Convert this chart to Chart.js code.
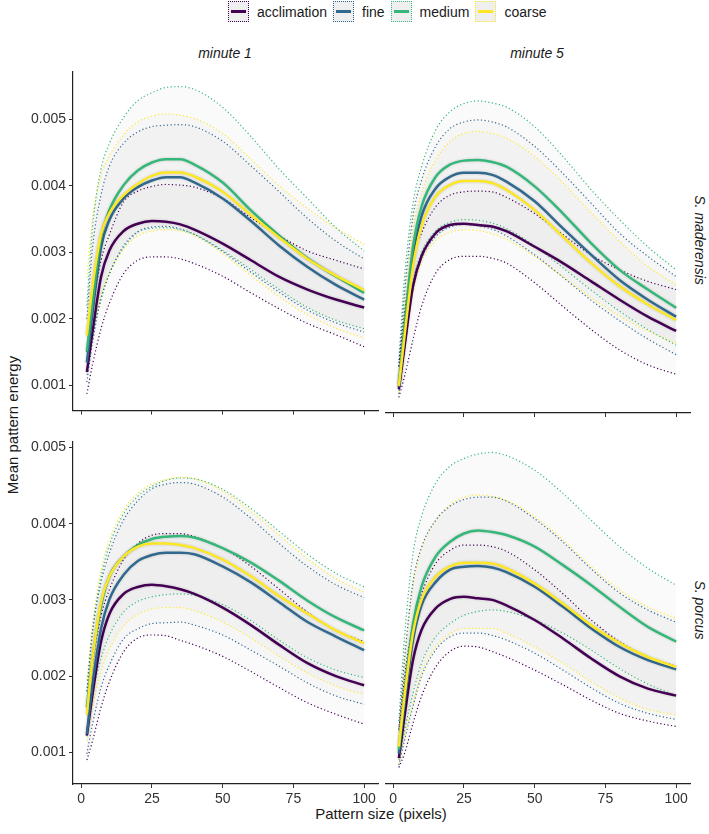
<!DOCTYPE html>
<html>
<head>
<meta charset="utf-8">
<script src="https://cdn.jsdelivr.net/npm/chart.js@4.4.1/dist/chart.umd.min.js"></script>
<style>
  body { margin: 0; background: #fff; font-family: "Liberation Sans", Arial, sans-serif; }
  #wrap { position: relative; width: 709px; height: 834px; overflow: hidden; }
  canvas { position: absolute; }
  .lab { position: absolute; white-space: nowrap; color: #1a1a1a; transform: translate(-50%, -50%); }
  .strip { font-size: 14px; font-style: italic; }
  #legend { position: absolute; left: 228px; top: 1px; display: flex; align-items: center; font-size: 14px; color: #1a1a1a; }
  .key { width: 19px; height: 19px; border: 1px dotted; background: #efefef; position: relative; margin-right: 8px; }
  .key i { position: absolute; left: 2px; right: 2px; top: 8px; height: 3px; }
  .item { display: flex; align-items: center; margin-right: 6px; }
</style>
</head>
<body>
<div id="wrap">
  <div id="legend"></div>
  <div class="lab strip" style="left:225px; top:53px;">minute 1</div>
  <div class="lab strip" style="left:537px; top:53px;">minute 5</div>
  <div class="lab strip" style="left:700px; top:240px; transform: translate(-50%, -50%) rotate(90deg);">S. maderensis</div>
  <div class="lab strip" style="left:700px; top:610px; transform: translate(-50%, -50%) rotate(90deg);">S. porcus</div>
  <div class="lab" style="left:12px; top:425px; font-size:15px; transform: translate(-50%, -50%) rotate(-90deg);">Mean pattern energy</div>
  <div class="lab" style="left:381px; top:813px; font-size:15px;">Pattern size (pixels)</div>
  <canvas id="tl" width="380" height="362" style="left:0px; top:60px;"></canvas>
  <canvas id="tr" width="307" height="362" style="left:385px; top:60px;"></canvas>
  <canvas id="bl" width="380" height="385" style="left:0px; top:430px;"></canvas>
  <canvas id="br" width="307" height="385" style="left:385px; top:430px;"></canvas>
</div>
<script>
const xs = [2, 4, 7, 10, 15, 20, 25, 30, 35, 40, 50, 60, 70, 80, 90, 100];
const xTicks = [0, 25, 50, 75, 100];
const yTicks = [0.001, 0.002, 0.003, 0.004, 0.005];
const groups = ["acclimation", "fine", "medium", "coarse"];
const groupColors = ["#440154", "#31688E", "#35B779", "#FDE725"];

// minute 1, S. maderensis
const m1madAccMean = [0.00120, 0.00180, 0.00263, 0.00303, 0.00332, 0.00343, 0.00347, 0.00346, 0.00342, 0.00334, 0.00313, 0.00288, 0.00263, 0.00244, 0.00229, 0.00217];
const m1madAccLo   = [0.00087, 0.00131, 0.00185, 0.00224, 0.00268, 0.00288, 0.00293, 0.00293, 0.00290, 0.00283, 0.00264, 0.00239, 0.00215, 0.00193, 0.00176, 0.00158];
const m1madAccHi   = [0.00150, 0.00214, 0.00288, 0.00327, 0.00376, 0.00392, 0.00399, 0.00402, 0.00401, 0.00398, 0.00381, 0.00352, 0.00325, 0.00302, 0.00288, 0.00275];
const m1madFinMean = [0.00134, 0.00209, 0.00307, 0.00349, 0.00381, 0.00398, 0.00408, 0.00413, 0.00413, 0.00405, 0.00381, 0.00347, 0.00310, 0.00278, 0.00251, 0.00229];
const m1madFinLo   = [0.00105, 0.00165, 0.00230, 0.00268, 0.00310, 0.00331, 0.00338, 0.00339, 0.00335, 0.00327, 0.00301, 0.00270, 0.00240, 0.00213, 0.00194, 0.00180];
const m1madFinHi   = [0.00200, 0.00307, 0.00386, 0.00430, 0.00464, 0.00481, 0.00489, 0.00491, 0.00492, 0.00489, 0.00467, 0.00430, 0.00391, 0.00351, 0.00317, 0.00290];
const m1madMedMean = [0.00151, 0.00224, 0.00322, 0.00364, 0.00401, 0.00423, 0.00435, 0.00440, 0.00440, 0.00432, 0.00405, 0.00363, 0.00325, 0.00291, 0.00264, 0.00239];
const m1madMedLo   = [0.00116, 0.00175, 0.00229, 0.00268, 0.00307, 0.00330, 0.00336, 0.00337, 0.00334, 0.00327, 0.00303, 0.00274, 0.00244, 0.00217, 0.00198, 0.00185];
const m1madMedHi   = [0.00220, 0.00337, 0.00425, 0.00464, 0.00503, 0.00528, 0.00540, 0.00548, 0.00549, 0.00545, 0.00518, 0.00474, 0.00425, 0.00381, 0.00337, 0.00302];
const m1madCoaMean = [0.00175, 0.00249, 0.00327, 0.00359, 0.00386, 0.00403, 0.00415, 0.00420, 0.00420, 0.00414, 0.00391, 0.00356, 0.00322, 0.00290, 0.00265, 0.00243];
const m1madCoaLo   = [0.00120, 0.00180, 0.00235, 0.00270, 0.00305, 0.00325, 0.00332, 0.00334, 0.00332, 0.00325, 0.00298, 0.00265, 0.00233, 0.00206, 0.00186, 0.00171];
const m1madCoaHi   = [0.00262, 0.00352, 0.00415, 0.00445, 0.00477, 0.00496, 0.00505, 0.00508, 0.00506, 0.00501, 0.00479, 0.00440, 0.00400, 0.00366, 0.00337, 0.00312];

// minute 5, S. maderensis
const m5madAccMean = [0.00097, 0.00160, 0.00249, 0.00293, 0.00327, 0.00339, 0.00341, 0.00339, 0.00337, 0.00330, 0.00307, 0.00283, 0.00256, 0.00229, 0.00204, 0.00183];
const m5madAccLo   = [0.00085, 0.00116, 0.00170, 0.00219, 0.00268, 0.00288, 0.00293, 0.00293, 0.00290, 0.00283, 0.00254, 0.00219, 0.00185, 0.00155, 0.00133, 0.00119];
const m5madAccHi   = [0.00131, 0.00210, 0.00288, 0.00327, 0.00366, 0.00383, 0.00388, 0.00389, 0.00388, 0.00380, 0.00356, 0.00325, 0.00295, 0.00273, 0.00256, 0.00244];
const m5madFinMean = [0.00100, 0.00180, 0.00293, 0.00352, 0.00393, 0.00410, 0.00416, 0.00416, 0.00413, 0.00403, 0.00374, 0.00334, 0.00295, 0.00258, 0.00229, 0.00204];
const m5madFinLo   = [0.00090, 0.00155, 0.00245, 0.00290, 0.00322, 0.00336, 0.00340, 0.00338, 0.00333, 0.00323, 0.00295, 0.00262, 0.00228, 0.00198, 0.00171, 0.00148];
const m5madFinHi   = [0.00130, 0.00239, 0.00352, 0.00405, 0.00455, 0.00481, 0.00491, 0.00494, 0.00491, 0.00484, 0.00455, 0.00415, 0.00371, 0.00327, 0.00293, 0.00263];
const m5madMedMean = [0.00105, 0.00190, 0.00307, 0.00366, 0.00410, 0.00428, 0.00434, 0.00435, 0.00432, 0.00425, 0.00396, 0.00356, 0.00312, 0.00273, 0.00244, 0.00217];
const m5madMedLo   = [0.00095, 0.00170, 0.00255, 0.00298, 0.00330, 0.00343, 0.00347, 0.00346, 0.00342, 0.00334, 0.00308, 0.00276, 0.00243, 0.00212, 0.00185, 0.00162];
const m5madMedHi   = [0.00140, 0.00263, 0.00371, 0.00425, 0.00479, 0.00506, 0.00518, 0.00522, 0.00519, 0.00513, 0.00484, 0.00440, 0.00391, 0.00347, 0.00307, 0.00273];
const m5madCoaMean = [0.00102, 0.00175, 0.00278, 0.00337, 0.00381, 0.00398, 0.00404, 0.00404, 0.00401, 0.00391, 0.00361, 0.00322, 0.00283, 0.00249, 0.00222, 0.00199];
const m5madCoaLo   = [0.00092, 0.00160, 0.00240, 0.00285, 0.00316, 0.00328, 0.00332, 0.00331, 0.00326, 0.00318, 0.00293, 0.00263, 0.00232, 0.00205, 0.00183, 0.00165];
const m5madCoaHi   = [0.00125, 0.00214, 0.00332, 0.00386, 0.00435, 0.00462, 0.00474, 0.00477, 0.00474, 0.00467, 0.00440, 0.00401, 0.00357, 0.00315, 0.00278, 0.00251];

// minute 1, S. porcus
const m1porAccMean = [0.00122, 0.00176, 0.00245, 0.00282, 0.00308, 0.00317, 0.00320, 0.00318, 0.00314, 0.00308, 0.00290, 0.00267, 0.00241, 0.00217, 0.00200, 0.00188];
const m1porAccLo   = [0.00090, 0.00115, 0.00159, 0.00193, 0.00232, 0.00250, 0.00254, 0.00253, 0.00247, 0.00241, 0.00226, 0.00206, 0.00185, 0.00165, 0.00150, 0.00137];
const m1porAccHi   = [0.00150, 0.00215, 0.00279, 0.00314, 0.00353, 0.00374, 0.00385, 0.00387, 0.00387, 0.00383, 0.00368, 0.00344, 0.00314, 0.00284, 0.00260, 0.00245];
const m1porFinMean = [0.00124, 0.00189, 0.00262, 0.00301, 0.00333, 0.00351, 0.00359, 0.00362, 0.00362, 0.00360, 0.00344, 0.00323, 0.00297, 0.00271, 0.00252, 0.00234];
const m1porFinLo   = [0.00098, 0.00137, 0.00185, 0.00215, 0.00249, 0.00262, 0.00269, 0.00270, 0.00271, 0.00267, 0.00254, 0.00234, 0.00213, 0.00191, 0.00174, 0.00163];
const m1porFinHi   = [0.00180, 0.00258, 0.00323, 0.00362, 0.00405, 0.00430, 0.00446, 0.00452, 0.00454, 0.00452, 0.00435, 0.00407, 0.00374, 0.00344, 0.00320, 0.00303];
const m1porMedMean = [0.00159, 0.00223, 0.00292, 0.00331, 0.00357, 0.00372, 0.00380, 0.00383, 0.00384, 0.00382, 0.00368, 0.00349, 0.00325, 0.00299, 0.00277, 0.00260];
const m1porMedLo   = [0.00128, 0.00176, 0.00223, 0.00254, 0.00284, 0.00298, 0.00304, 0.00307, 0.00308, 0.00306, 0.00294, 0.00273, 0.00247, 0.00224, 0.00208, 0.00198];
const m1porMedHi   = [0.00180, 0.00260, 0.00330, 0.00372, 0.00413, 0.00436, 0.00449, 0.00457, 0.00460, 0.00459, 0.00445, 0.00420, 0.00390, 0.00360, 0.00335, 0.00317];
const m1porCoaMean = [0.00150, 0.00223, 0.00297, 0.00331, 0.00357, 0.00370, 0.00374, 0.00374, 0.00372, 0.00368, 0.00353, 0.00331, 0.00305, 0.00282, 0.00260, 0.00243];
const m1porCoaLo   = [0.00115, 0.00159, 0.00206, 0.00236, 0.00266, 0.00281, 0.00288, 0.00290, 0.00290, 0.00286, 0.00271, 0.00250, 0.00226, 0.00204, 0.00187, 0.00176];
const m1porCoaHi   = [0.00195, 0.00270, 0.00340, 0.00379, 0.00418, 0.00440, 0.00452, 0.00458, 0.00461, 0.00459, 0.00443, 0.00416, 0.00385, 0.00354, 0.00328, 0.00310];

// minute 5, S. porcus
const m5porAccMean = [0.00092, 0.00146, 0.00219, 0.00258, 0.00286, 0.00298, 0.00301, 0.00299, 0.00297, 0.00290, 0.00271, 0.00247, 0.00221, 0.00198, 0.00182, 0.00173];
const m5porAccLo   = [0.00080, 0.00098, 0.00137, 0.00172, 0.00210, 0.00230, 0.00237, 0.00236, 0.00230, 0.00223, 0.00206, 0.00187, 0.00167, 0.00150, 0.00140, 0.00133];
const m5porAccHi   = [0.00128, 0.00197, 0.00266, 0.00305, 0.00344, 0.00361, 0.00368, 0.00368, 0.00366, 0.00360, 0.00336, 0.00305, 0.00271, 0.00243, 0.00223, 0.00211];
const m5porFinMean = [0.00098, 0.00163, 0.00245, 0.00290, 0.00320, 0.00336, 0.00340, 0.00341, 0.00339, 0.00333, 0.00314, 0.00288, 0.00260, 0.00236, 0.00219, 0.00207];
const m5porFinLo   = [0.00083, 0.00115, 0.00159, 0.00198, 0.00232, 0.00249, 0.00254, 0.00254, 0.00251, 0.00245, 0.00228, 0.00206, 0.00183, 0.00163, 0.00150, 0.00142];
const m5porFinHi   = [0.00130, 0.00220, 0.00320, 0.00365, 0.00400, 0.00418, 0.00427, 0.00430, 0.00430, 0.00425, 0.00402, 0.00372, 0.00337, 0.00306, 0.00284, 0.00268];
const m5porMedMean = [0.00103, 0.00176, 0.00266, 0.00314, 0.00353, 0.00372, 0.00383, 0.00387, 0.00385, 0.00381, 0.00366, 0.00342, 0.00316, 0.00288, 0.00262, 0.00243];
const m5porMedLo   = [0.00090, 0.00128, 0.00176, 0.00215, 0.00249, 0.00266, 0.00277, 0.00282, 0.00284, 0.00282, 0.00271, 0.00254, 0.00232, 0.00208, 0.00188, 0.00173];
const m5porMedHi   = [0.00140, 0.00249, 0.00357, 0.00405, 0.00448, 0.00470, 0.00480, 0.00486, 0.00488, 0.00484, 0.00465, 0.00435, 0.00400, 0.00366, 0.00338, 0.00316];
const m5porCoaMean = [0.00107, 0.00172, 0.00254, 0.00297, 0.00327, 0.00340, 0.00345, 0.00345, 0.00344, 0.00338, 0.00318, 0.00292, 0.00264, 0.00241, 0.00223, 0.00210];
const m5porCoaLo   = [0.00085, 0.00120, 0.00163, 0.00202, 0.00236, 0.00253, 0.00260, 0.00260, 0.00260, 0.00254, 0.00236, 0.00215, 0.00191, 0.00170, 0.00155, 0.00148];
const m5porCoaHi   = [0.00120, 0.00215, 0.00314, 0.00362, 0.00400, 0.00420, 0.00430, 0.00433, 0.00431, 0.00426, 0.00405, 0.00375, 0.00340, 0.00310, 0.00288, 0.00273];

const FONT = "'Liberation Sans', Arial, sans-serif";

// soft halo around the mean lines
const glow = {
  id: "glow",
  beforeDatasetDraw(chart, args) {
    if (chart.data.datasets[args.index].isMean) {
      chart.ctx.save();
      chart.ctx.shadowColor = "rgba(0,0,0,0.18)";
      chart.ctx.shadowBlur = 3;
    }
  },
  afterDatasetDraw(chart, args) {
    if (chart.data.datasets[args.index].isMean) chart.ctx.restore();
  }
};

function pts(arr) {
  return xs.map((x, i) => ({ x: x, y: arr[i] }));
}

function makePanel(id, series, yMin, yMax, showY, showXLabels, xAxisH) {
  const datasets = [];
  series.forEach((s, g) => {
    datasets.push({ data: pts(s[1]), borderColor: groupColors[g], borderWidth: 1.2, borderDash: [1.2, 2.4],
      fill: false, order: 10 });
    datasets.push({ data: pts(s[2]), borderColor: groupColors[g], borderWidth: 1.2, borderDash: [1.2, 2.4],
      fill: "-1", backgroundColor: "rgba(0,0,0,0.018)", order: 10 });
  });
  series.forEach((s, g) => {
    datasets.push({ data: pts(s[0]), borderColor: groupColors[g], borderWidth: 2.5, order: 3 - g, isMean: true });
  });

  new Chart(document.getElementById(id), {
    type: "line",
    data: { datasets: datasets },
    plugins: [glow],
    options: {
      responsive: false,
      animation: false,
      devicePixelRatio: 1,
      events: [],
      layout: { padding: { top: 7, right: 2, left: 0, bottom: 0 } },
      elements: {
        point: { radius: 0 },
        line: { cubicInterpolationMode: "monotone" }
      },
      plugins: {
        legend: { display: false },
        tooltip: { enabled: false },
        filler: { drawTime: "beforeDatasetsDraw" }
      },
      scales: {
        x: {
          type: "linear", min: -2.9, max: 104.9,
          afterBuildTicks: s => { s.ticks = xTicks.map(v => ({ value: v })); },
          afterFit: s => { s.height = xAxisH; },
          grid: { drawOnChartArea: false, drawTicks: true, tickLength: 4, color: "#333" },
          border: { display: true, color: "#222", width: 1.2 },
          ticks: { display: showXLabels, color: "#333", padding: 3, maxRotation: 0,
            font: { size: 14, family: FONT } }
        },
        y: {
          type: "linear", display: showY, min: yMin, max: yMax,
          afterBuildTicks: s => { s.ticks = yTicks.map(v => ({ value: v })); },
          afterFit: s => { s.width = showY ? 73 : 0; },
          grid: { drawOnChartArea: false, drawTicks: true, tickLength: 4, color: "#333" },
          border: { display: true, color: "#222", width: 1.2 },
          ticks: { color: "#333", padding: 3, font: { size: 14, family: FONT },
            callback: v => v.toFixed(3) }
        }
      }
    }
  });
}

makePanel("tl", [
  [m1madAccMean, m1madAccLo, m1madAccHi],
  [m1madFinMean, m1madFinLo, m1madFinHi],
  [m1madMedMean, m1madMedLo, m1madMedHi],
  [m1madCoaMean, m1madCoaLo, m1madCoaHi]
], 0.00062, 0.00572, true, false, 9);

makePanel("tr", [
  [m5madAccMean, m5madAccLo, m5madAccHi],
  [m5madFinMean, m5madFinLo, m5madFinHi],
  [m5madMedMean, m5madMedLo, m5madMedHi],
  [m5madCoaMean, m5madCoaLo, m5madCoaHi]
], 0.00062, 0.00572, false, false, 9);

makePanel("bl", [
  [m1porAccMean, m1porAccLo, m1porAccHi],
  [m1porFinMean, m1porFinLo, m1porFinHi],
  [m1porMedMean, m1porMedLo, m1porMedHi],
  [m1porCoaMean, m1porCoaLo, m1porCoaHi]
], 0.000585, 0.00508, true, true, 31);

makePanel("br", [
  [m5porAccMean, m5porAccLo, m5porAccHi],
  [m5porFinMean, m5porFinLo, m5porFinHi],
  [m5porMedMean, m5porMedLo, m5porMedHi],
  [m5porCoaMean, m5porCoaLo, m5porCoaHi]
], 0.000585, 0.00508, false, true, 31);

// legend
const legend = document.getElementById("legend");
groups.forEach((name, g) => {
  const item = document.createElement("div");
  item.className = "item";
  const key = document.createElement("div");
  key.className = "key";
  key.style.borderColor = groupColors[g];
  const bar = document.createElement("i");
  bar.style.background = groupColors[g];
  key.appendChild(bar);
  const txt = document.createElement("span");
  txt.textContent = name;
  item.appendChild(key);
  item.appendChild(txt);
  legend.appendChild(item);
});
</script>
</body>
</html>
